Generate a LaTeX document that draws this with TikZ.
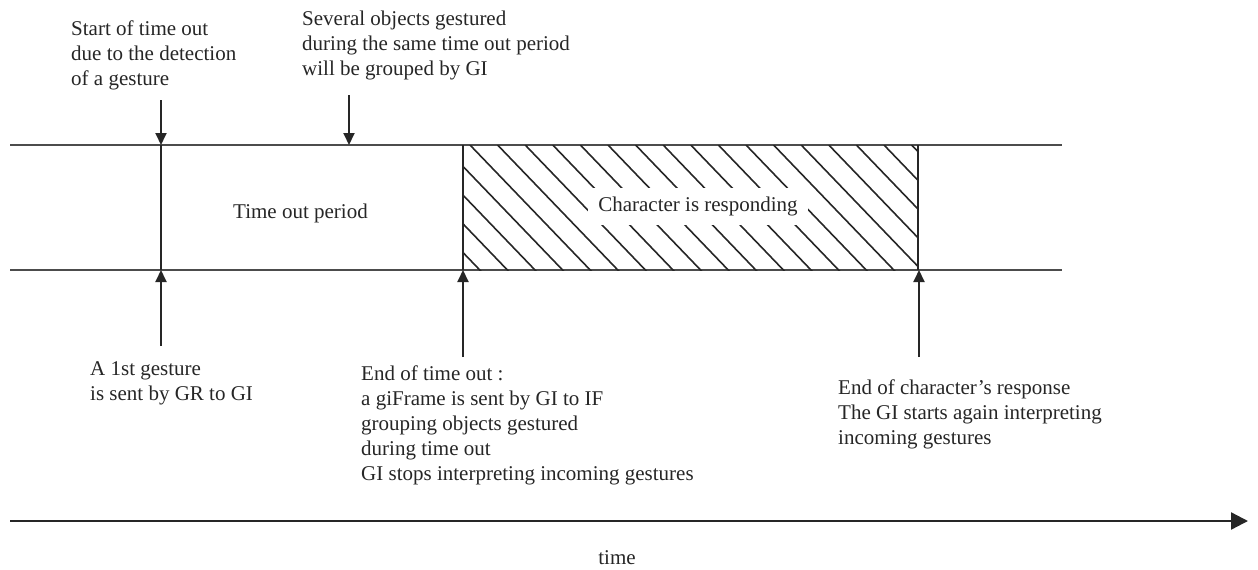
\documentclass[tikz,border=0pt]{standalone}
\usepackage{fontspec}
\setmainfont{Liberation Serif}
\usetikzlibrary{arrows.meta}
\begin{document}
\begin{tikzpicture}[x=1pt,y=-1pt,
  lbl/.style={inner sep=0pt, anchor=base west, font=\fontsize{21}{25}\selectfont, text=black!85},
  hline/.style={draw=black!70, line width=1.4pt},
  vline/.style={draw=black!85, line width=2.3pt},
  hatch/.style={draw=black!85, line width=1.6pt},
  arr/.style={draw=black!85, line width=1.9pt, -{Triangle[length=12pt,width=11pt]}},
  bigarr/.style={draw=black!85, line width=2.3pt, -{Triangle[length=17pt,width=17pt]}}]
\useasboundingbox (0,0) rectangle (1258,570);
% timeline band
\coordinate (tl) at (10,145); \coordinate (tr) at (1062,145);
\coordinate (bl) at (10,270); \coordinate (br) at (1062,270);
\draw[hline] (tl) -- (tr);
\draw[hline] (bl) -- (br);
% hatched area
\begin{scope}
  \clip (463,145) rectangle (918,270);
  \foreach \k in {-6,...,16} \draw[hatch] (470+\k*27.6,145) -- ++(125,130);
\end{scope}
\node[fill=white, inner xsep=10pt, inner ysep=0pt, minimum height=37pt, font=\fontsize{21}{25}\selectfont, text=black!85] (resp) at (698,206) {Character is responding};
% vertical marks
\coordinate (v1t) at (161,145); \coordinate (v1b) at (161,270);
\coordinate (v2t) at (463,145); \coordinate (v2b) at (463,270);
\coordinate (v3t) at (918,145); \coordinate (v3b) at (918,270);
\draw[vline] (v1t) -- (v1b);
\draw[vline] (v2t) -- (v2b);
\draw[vline] (v3t) -- (v3b);
\node[lbl] (period) at (233,218) {Time out period};
% top labels and arrows
\node[lbl] (start) at (71,35) {\begin{tabular}[t]{@{}l@{}}Start of time out\\due to the detection\\of a gesture\end{tabular}};
\node[lbl] (several) at (302,25) {\begin{tabular}[t]{@{}l@{}}Several objects gestured\\during the same time out period\\will be grouped by GI\end{tabular}};
\coordinate (a1s) at (161,100); \coordinate (a1e) at (161,145);
\coordinate (a2s) at (349,95); \coordinate (a2e) at (349,145);
\draw[arr] (a1s) -- (a1e);
\draw[arr] (a2s) -- (a2e);
% bottom arrows and labels
\coordinate (b1s) at (161,346); \coordinate (b1e) at (161,270);
\coordinate (b2s) at (463,357); \coordinate (b2e) at (463,270);
\coordinate (b3s) at (919,357); \coordinate (b3e) at (919,270);
\draw[arr] (b1s) -- (b1e);
\draw[arr] (b2s) -- (b2e);
\draw[arr] (b3s) -- (b3e);
\node[lbl] (first) at (90,375) {\begin{tabular}[t]{@{}l@{}}A 1st gesture\\is sent by GR to GI\end{tabular}};
\node[lbl] (endto) at (361,380) {\begin{tabular}[t]{@{}l@{}}End of time out :\\a giFrame is sent by GI to IF\\grouping objects gestured\\during time out\\GI stops interpreting incoming gestures\end{tabular}};
\node[lbl] (endch) at (838,394) {\begin{tabular}[t]{@{}l@{}}End of character’s response\\The GI starts again interpreting\\incoming gestures\end{tabular}};
% time axis
\coordinate (ts) at (10,521); \coordinate (te) at (1248,521);
\draw[bigarr] (ts) -- (te);
\node[lbl, anchor=base] (time) at (617,564) {time};
\end{tikzpicture}
\end{document}
